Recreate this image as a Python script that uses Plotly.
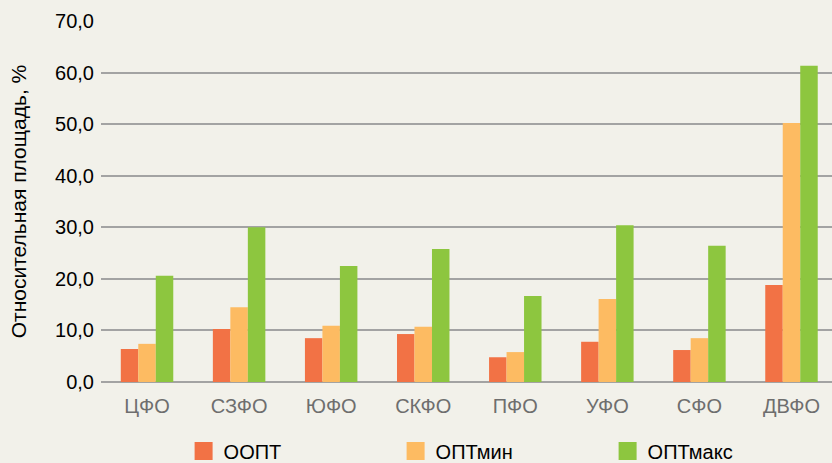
import plotly.graph_objects as go

categories = ["ЦФО", "СЗФО", "ЮФО", "СКФО", "ПФО", "УФО", "СФО", "ДВФО"]
oopt = [6.4, 10.3, 8.5, 9.3, 4.8, 7.8, 6.2, 18.8]
opt_min = [7.4, 14.5, 10.9, 10.7, 5.8, 16.1, 8.5, 50.2]
opt_max = [20.6, 30.0, 22.5, 25.8, 16.7, 30.4, 26.4, 61.3]
series_names = ["ООПТ", "ОПТмин", "ОПТмакс"]
colors = ["#f27245", "#fdbb62", "#8dc63f"]

fig = go.Figure()
for name, vals, c in zip(series_names, [oopt, opt_min, opt_max], colors):
    fig.add_trace(go.Bar(x=categories, y=vals, name=name, marker_color=c,
                         marker_line_width=0, showlegend=False))
    fig.add_trace(go.Scatter(x=[None], y=[None], mode="markers", name=name,
                             marker=dict(symbol="square", size=16, color=c,
                                         line=dict(color=c, width=2))))

fig.update_layout(
    width=832, height=463,
    paper_bgcolor="#f2f1ea", plot_bgcolor="#f2f1ea",
    margin=dict(l=101, r=0, t=21, b=81, autoexpand=False),
    barmode="group", bargap=0.43, bargroupgap=0,
    separators=", ",
    font=dict(family="Liberation Sans, Arial, sans-serif", size=20, color="#000"),
    xaxis=dict(type="category", range=[-0.5, 7.44], showgrid=False, showline=False,
               ticks="", ticklabelstandoff=10, tickfont=dict(color="#6e6e6e", size=20)),
    yaxis=dict(range=[0, 70], dtick=10, tickformat=".1f", showgrid=True,
               gridcolor="#a3a3a3", gridwidth=1.5, zeroline=True,
               zerolinecolor="#a3a3a3", zerolinewidth=1.5, ticks="",
               ticklabelstandoff=6,
               title=dict(text="Относительная площадь, %", standoff=22,
                          font=dict(size=21))),
    legend=dict(orientation="h", x=0.113, xanchor="left", y=-0.137, yanchor="top",
                entrywidth=167, font=dict(size=20), itemsizing="trace",
                bgcolor="rgba(0,0,0,0)"),
)
fig.write_html("out.html", config={"displayModeBar": False},
               post_script="document.body.style.margin='0';")
